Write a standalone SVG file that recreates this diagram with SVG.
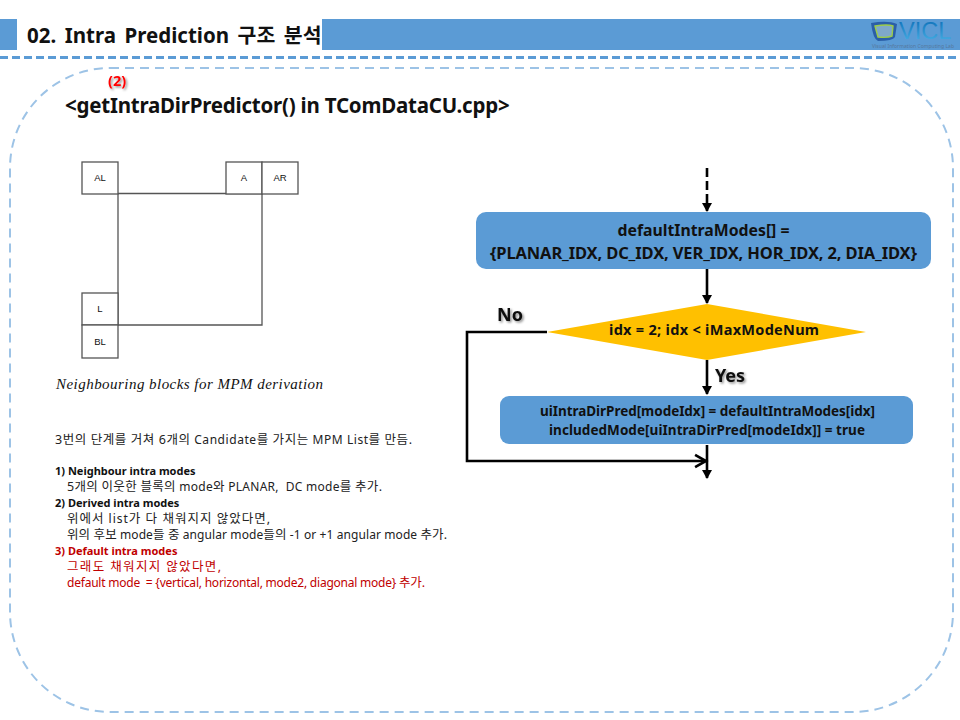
<svg xmlns="http://www.w3.org/2000/svg" width="960" height="720" viewBox="0 0 960 720">
<style>
text{font-family:"Noto Sans","Noto Sans CJK KR",sans-serif;fill:#111;white-space:pre}
.b{font-weight:700}
.g{font-size:12px;fill:#222}
.k{font-size:12.5px}
.r{fill:#c00000}
.c{text-anchor:middle}
.cell{fill:#fff;stroke:#555;stroke-width:1.3}
.flow{fill:#5b9bd5}
.con{fill:none;stroke:#000;stroke-width:2.6}
.lab{font-family:"Liberation Sans",sans-serif;font-size:9.5px}
</style>
<defs>
<marker id="ah" markerWidth="4" markerHeight="4" refX="3.2" refY="2" orient="auto"><path d="M0 0L3.6 2L0 4Z" fill="#000"/></marker>
<marker id="oh" markerWidth="6" markerHeight="6" refX="5" refY="3" orient="auto"><path d="M.8 .6L5 3L.8 5.400" fill="none" stroke="#000" stroke-width="1"/></marker>
<filter id="sh" x="-30%" y="-30%" width="170%" height="170%"><feDropShadow dx="1.5" dy="1.5" stdDeviation="1.3" flood-color="#000" flood-opacity=".45"/></filter>
<linearGradient id="vg" x1="0" x2="0" y1="0" y2="1"><stop offset="0" stop-color="#0a6cb5"/><stop offset="1" stop-color="#4cb4e8"/></linearGradient>
</defs>

<g id="header">
<rect x="0" y="19" width="17" height="31" fill="#5b9bd5"/>
<rect x="322" y="19" width="638" height="31" fill="#5b9bd5"/>
<text x="27" y="43" class="b" font-size="20.500" word-spacing="3.200">02. Intra Prediction 구조 분석</text>
<path d="M0 57.500H960" fill="none" stroke="#5b9bd5" stroke-width="3" stroke-dasharray="8 4"/>
</g>
<g id="logo">
<path d="M871 23Q888 20 897 24L895 37Q893 41 878 41Q873 39 871 23Z" fill="#2b5fa8"/>
<path d="M875 26Q888 24 893 26L892 36Q888 38 878 37Z" fill="#7fa8c9" stroke="#9ccc4a" stroke-width="1.400"/>
<text x="899" y="39" font-size="23.500" style="font-family:'Liberation Sans',sans-serif;fill:url(#vg)">VICL</text>
<text x="872" y="48" font-size="5" style="fill:#56789c" textLength="82">Visual Information Computing Lab</text>
</g>
<rect id="panel" x="10" y="68" width="943" height="644" rx="100" fill="none" stroke="#9dc3e6" stroke-width="2" stroke-dasharray="9 6"/>

<g id="title">
<text x="108" y="86" class="b" font-size="14.500" style="fill:#f00" filter="url(#sh)">(2)</text>
<text x="65" y="113" class="b" font-size="20.500" letter-spacing="-.22">&lt;getIntraDirPredictor() in TComDataCU.cpp&gt;</text>
</g>

<g id="blocks">
<path d="M118 193.500H262V325H118V193" fill="none" stroke="#555" stroke-width="1.300"/>
<g id="AL"><rect class="cell" x="82" y="162" width="36" height="32"/><text class="c lab" x="100" y="181">AL</text></g>
<g id="A"><rect class="cell" x="226" y="162" width="36" height="32"/><text class="c lab" x="244" y="181">A</text></g>
<g id="AR"><rect class="cell" x="262" y="162" width="36" height="32"/><text class="c lab" x="280" y="181">AR</text></g>
<g id="L"><rect class="cell" x="82" y="293" width="36" height="32"/><text class="c lab" x="100" y="312">L</text></g>
<g id="BL"><rect class="cell" x="82" y="325" width="36" height="33"/><text class="c lab" x="100" y="345">BL</text></g>
<text x="56" y="389" font-size="15" font-style="italic" style="font-family:'Liberation Serif',serif" letter-spacing=".46">Neighbouring blocks for MPM derivation</text>
</g>

<g id="notes">
<text class="g" x="55" y="444" textLength="357"><tspan class="k">3번의 단계를 거쳐 6개의</tspan> Candidate<tspan class="k">를 가지는</tspan> MPM List<tspan class="k">를 만듬.</tspan></text>
<text class="b" x="55" y="475" font-size="11">1) Neighbour intra modes</text>
<text class="g" x="67" y="491" textLength="315"><tspan class="k">5개의 이웃한 블록의</tspan> mode<tspan class="k">와</tspan> PLANAR,  DC mode<tspan class="k">를 추가.</tspan></text>
<text class="b" x="55" y="507" font-size="11">2) Derived intra modes</text>
<text class="g" x="67" y="523" textLength="203"><tspan class="k">위에서</tspan> list<tspan class="k">가 다 채워지지 않았다면,</tspan></text>
<text class="g" x="67" y="539" textLength="380"><tspan class="k">위의 후보</tspan> mode<tspan class="k">들 중</tspan> angular mode<tspan class="k">들의</tspan> -1 or +1 angular mode <tspan class="k">추가.</tspan></text>
<text class="b r" x="55" y="555" font-size="11">3) Default intra modes</text>
<text class="r" x="67" y="571" font-size="12.500" textLength="154">그래도 채워지지 않았다면,</text>
<text class="g r" x="67" y="587" textLength="358">default mode  = {vertical, horizontal, mode2, diagonal mode} <tspan class="k r">추가.</tspan></text>
</g>

<g id="connectors">
<path class="con" d="M707 168V211" stroke-dasharray="9 4" marker-end="url(#ah)"/>
<path class="con" d="M707 269V303" marker-end="url(#ah)"/>
<path class="con" d="M707 360V394" marker-end="url(#ah)"/>
<path class="con" d="M707 445V478" marker-end="url(#ah)"/>
<path class="con" d="M547 332H467V461H706" marker-end="url(#oh)"/>
</g>

<g id="defaults"><rect class="flow" x="476" y="212" width="455" height="57" rx="10"/>
<text class="c b" x="703.500" y="236" font-size="15.800">defaultIntraModes[] =</text>
<text class="c b" x="703.500" y="258.500" font-size="16.500" textLength="427">{PLANAR_IDX, DC_IDX, VER_IDX, HOR_IDX, 2, DIA_IDX}</text></g>
<g id="decision"><path d="M547 332L707 304L866 332L707 360Z" fill="#ffc000"/>
<text class="c b" x="714" y="335" font-size="14.500" textLength="210">idx = 2; idx &lt; iMaxModeNum</text></g>
<g id="update"><rect class="flow" x="500" y="396" width="413" height="48" rx="9"/>
<text class="c b" x="707.500" y="416" font-size="13.500" textLength="335">uiIntraDirPred[modeIdx] = defaultIntraModes[idx]</text>
<text class="c b" x="707" y="435" font-size="13.500" textLength="316">includedMode[uiIntraDirPred[modeIdx]] = true</text></g>

<g id="labels">
<text class="b" x="497" y="321" font-size="18" filter="url(#sh)">No</text>
<text class="b" x="715" y="382" font-size="18" filter="url(#sh)">Yes</text>
</g>
</svg>
